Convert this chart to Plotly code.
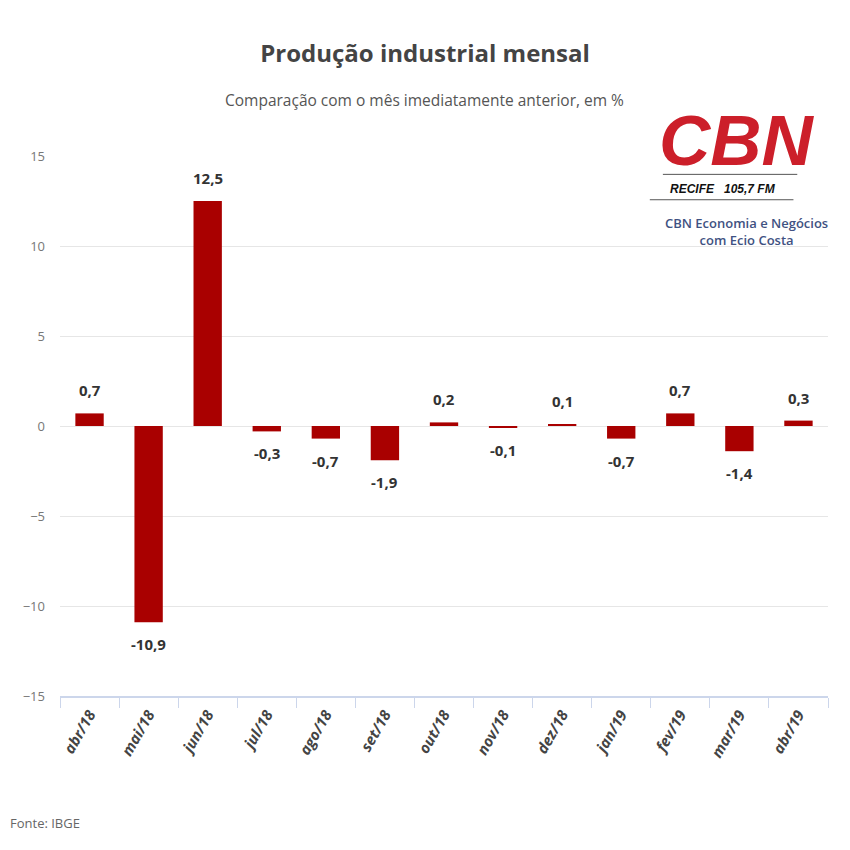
import plotly.graph_objects as go

# dados: produção industrial, variação mensal (%)
meses = ["abr/18", "mai/18", "jun/18", "jul/18", "ago/18", "set/18", "out/18",
         "nov/18", "dez/18", "jan/19", "fev/19", "mar/19", "abr/19"]
variacao = [0.7, -10.9, 12.5, -0.3, -0.7, -1.9, 0.2, -0.1, 0.1, -0.7, 0.7, -1.4, 0.3]
y_ticks = [-15, -10, -5, 0, 5, 10, 15]

rotulos = [f"{v:.1f}".replace(".", ",") for v in variacao]

fig = go.Figure()
fig.add_trace(go.Bar(
    x=meses, y=variacao,
    marker=dict(color="#a90000", line=dict(width=0)),
    width=0.48,
    showlegend=False,
    hoverinfo="x+y",
))

# rótulos de valor acima/abaixo das barras
for m, v, r in zip(meses, variacao, rotulos):
    fig.add_annotation(
        x=m, y=v, text=f"<b>{r}</b>", showarrow=False,
        xanchor="center", yanchor="middle",
        yshift=23 if v >= 0 else -22,
        font=dict(family="Open Sans", size=15, color="#333333"),
    )

# a página tem margem de 8px no body: compensar nas margens
fig.update_layout(
    width=850, height=850,
    paper_bgcolor="white", plot_bgcolor="white",
    margin=dict(l=52, r=30, t=148, b=162),
    font=dict(family="Open Sans", color="#555555"),
    title=dict(
        text="<b>Produção industrial mensal</b>",
        x=0.4906, xanchor="center", y=0.946, yanchor="middle",
        font=dict(family="Open Sans", size=24, color="#444444"),
    ),
)

fig.update_yaxes(
    range=[-15, 15], tickvals=y_ticks,
    showgrid=True, gridcolor="#e6e6e6", gridwidth=1,
    zeroline=False, showline=False,
    tickfont=dict(family="Open Sans", size=13, color="#777777"),
    ticks="", ticklabelstandoff=14,
)
fig.update_xaxes(
    showline=True, linecolor="#ccd6eb", linewidth=2,
    ticks="outside", tickson="boundaries", ticklen=10, tickcolor="#ccd6eb",
    tickangle=-60, ticklabelstandoff=2,
    tickfont=dict(family="Open Sans", size=15, color="#444444", weight="bold", style="italic"),
    showgrid=False,
)

# subtítulo
fig.add_annotation(
    text="Comparação com o mês imediatamente anterior, em %",
    xref="paper", yref="paper", x=0.475, y=1.0, yshift=56,
    xanchor="center", yanchor="middle", showarrow=False,
    font=dict(family="Open Sans", size=15.5, color="#555555"),
)

# fonte
fig.add_annotation(
    text="Fonte: IBGE", xref="paper", yref="paper",
    x=0, xshift=-52, y=0, yshift=-127, xanchor="left", yanchor="middle",
    showarrow=False, font=dict(family="Open Sans", size=13, color="#666666"),
)

# logotipo CBN
fig.add_annotation(
    text="<b><i>CBN</i></b>", xref="paper", yref="paper",
    x=0.881, y=1.0, yshift=16, xanchor="center", yanchor="middle",
    showarrow=False, borderpad=0,
    font=dict(family="Liberation Sans", size=71, color="#cc1f2a"),
)
fig.add_annotation(
    text="<b><i>RECIFE   105,7 FM</i></b>", xref="paper", yref="paper",
    x=0.863, y=1.0, yshift=-33, xanchor="center", yanchor="middle",
    showarrow=False, borderpad=0,
    font=dict(family="Liberation Sans", size=12, color="#111111"),
)
fig.add_shape(type="line", xref="paper", yref="paper",
              x0=0.785, x1=0.96, y0=0.966, y1=0.966,
              line=dict(color="#555555", width=1))
fig.add_shape(type="line", xref="paper", yref="paper",
              x0=0.768, x1=0.955, y0=0.919, y1=0.919,
              line=dict(color="#555555", width=1))
fig.add_annotation(
    text="CBN Economia e Negócios<br>com Ecio Costa", xref="paper", yref="paper",
    x=0.894, y=1.0, yshift=-75, xanchor="center", yanchor="middle",
    showarrow=False, align="center",
    font=dict(family="Open Sans", size=13, color="#3f5282", weight=600),
)

fig.write_html("out.html")
